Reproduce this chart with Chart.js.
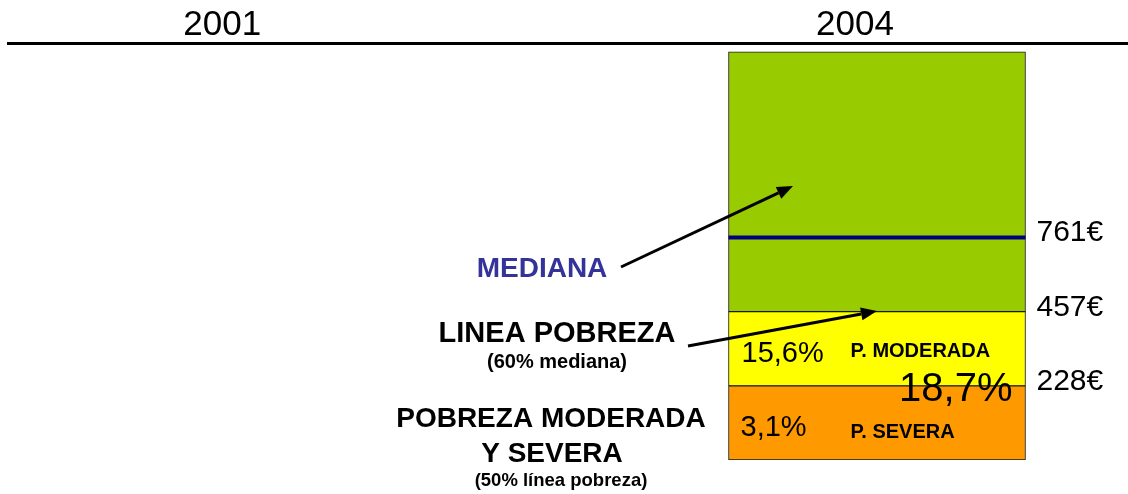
<!DOCTYPE html>
<html>
<head>
<meta charset="utf-8">
<script src="https://cdn.jsdelivr.net/npm/chart.js@4.4.0/dist/chart.umd.min.js"></script>
<style>
  html, body { margin: 0; padding: 0; background: #fff; }
</style>
</head>
<body>
<canvas id="grafico" width="1128" height="494"></canvas>
<script>
// Datos del gráfico
const anios = [2001, 2004];
const anioBarra = 2004;
// tramos de la barra (alturas en unidades del dibujo, de abajo a arriba)
const tramos = ['P. SEVERA', 'P. MODERADA', 'RESTO'];
const alturas = [1, 1, 3.5];
const colores = ['#FF9900', '#FFFF00', '#99CC00'];
// umbrales de renta
const umbrales = [1, 2, 3];
const etiquetasUmbral = ['228€', '457€', '761€'];
const nivelMediana = 3;
// porcentajes
const pctSevera = 3.1;
const pctModerada = 15.6;
const pctTotal = 18.7;

const FUENTE = '"Liberation Sans", Arial, sans-serif';

function fmtPct(v) {
    return v.toFixed(1).replace('.', ',') + '%';
}

function texto(ctx, str, x, y, size, bold, color, align) {
    ctx.font = (bold ? 'bold ' : '') + size + 'px ' + FUENTE;
    ctx.fillStyle = color || '#000';
    ctx.textAlign = align || 'center';
    ctx.textBaseline = 'alphabetic';
    ctx.fillText(str, x, y);
}

function flecha(ctx, x1, y1, x2, y2) {
    const ang = Math.atan2(y2 - y1, x2 - x1);
    const largo = 16, ancho = 6.5;
    const bx = x2 - largo * Math.cos(ang), by = y2 - largo * Math.sin(ang);
    ctx.strokeStyle = '#000';
    ctx.fillStyle = '#000';
    ctx.lineWidth = 3;
    ctx.beginPath();
    ctx.moveTo(x1, y1);
    ctx.lineTo(bx, by);
    ctx.stroke();
    ctx.beginPath();
    ctx.moveTo(x2, y2);
    ctx.lineTo(bx + ancho * Math.sin(ang), by - ancho * Math.cos(ang));
    ctx.lineTo(bx - ancho * Math.sin(ang), by + ancho * Math.cos(ang));
    ctx.closePath();
    ctx.fill();
}

// Textos, mediana y flechas
const anotaciones = {
    id: 'anotaciones',
    afterDatasetsDraw(chart) {
        const { ctx, scales: { y } } = chart;
        const barra = chart.getDatasetMeta(0).data[0];
        const izq = barra.x - barra.width / 2;
        const der = barra.x + barra.width / 2;

        ctx.save();
        // linea de la mediana
        const ym = y.getPixelForValue(nivelMediana);
        ctx.strokeStyle = '#000080';
        ctx.lineWidth = 4;
        ctx.beginPath();
        ctx.moveTo(izq, ym);
        ctx.lineTo(der, ym);
        ctx.stroke();

        // etiquetas de umbral a la derecha
        umbrales.forEach((u, i) => {
            texto(ctx, etiquetasUmbral[i], der + 11, y.getPixelForValue(u) + 4, 30, false, '#000', 'left');
        });

        // porcentajes dentro de la barra
        const cSev = (y.getPixelForValue(0) + y.getPixelForValue(alturas[0])) / 2;
        const cMod = (y.getPixelForValue(alturas[0]) + y.getPixelForValue(alturas[0] + alturas[1])) / 2;
        texto(ctx, fmtPct(pctModerada), izq + 13, cMod + 13, 29, false, '#000', 'left');
        texto(ctx, tramos[1], izq + 122, cMod + 8, 20, true, '#000', 'left');
        texto(ctx, fmtPct(pctSevera), izq + 12, cSev + 13, 29, false, '#000', 'left');
        texto(ctx, tramos[0], izq + 122, cSev + 15, 20, true, '#000', 'left');
        texto(ctx, fmtPct(pctTotal), der - 13, y.getPixelForValue(alturas[0]) + 15, 40, false, '#000', 'right');

        // leyendas a la izquierda
        texto(ctx, 'MEDIANA', 542, 277, 28, true, '#333399');
        texto(ctx, 'LINEA POBREZA', 557, 342, 29, true);
        texto(ctx, '(60% mediana)', 557, 368, 20, true);
        texto(ctx, 'POBREZA MODERADA', 551, 427, 28, true);
        texto(ctx, 'Y SEVERA', 552, 462, 28, true);
        texto(ctx, '(50% línea pobreza)', 561, 486, 18.5, true);

        // flechas
        flecha(ctx, 621, 267, 793, 186);
        flecha(ctx, 688, 346, 877, 311);
        ctx.restore();
    }
};

new Chart(document.getElementById('grafico'), {
    type: 'bar',
    data: {
        datasets: tramos.map((t, i) => ({
            label: t,
            data: [{ x: anioBarra, y: alturas[i] }],
            backgroundColor: colores[i],
            borderColor: '#1a1a1a',
            borderWidth: 1,
            borderSkipped: false,
            barThickness: 297
        }))
    },
    options: {
        responsive: false,
        animation: false,
        layout: { padding: { left: 8, right: 0, top: 7, bottom: 34 } },
        plugins: {
            legend: { display: false },
            tooltip: { enabled: false }
        },
        scales: {
            x: {
                type: 'linear',
                position: 'top',
                offset: false,
                min: 1999.88,
                max: 2005.19,
                stacked: true,
                grid: { display: false, drawTicks: false, offset: false },
                border: { display: true, width: 3, color: '#000' },
                afterBuildTicks: s => { s.ticks = anios.map(v => ({ value: v })); },
                ticks: {
                    padding: -3,
                    labelOffset: -22,
                    autoSkip: false,
                    maxRotation: 0,
                    color: '#000',
                    font: { family: FUENTE, size: 35 },
                    callback: v => String(v)
                }
            },
            y: {
                type: 'linear',
                display: false,
                stacked: true,
                min: 0,
                max: 5.62
            }
        }
    },
    plugins: [anotaciones]
});
</script>
</body>
</html>
